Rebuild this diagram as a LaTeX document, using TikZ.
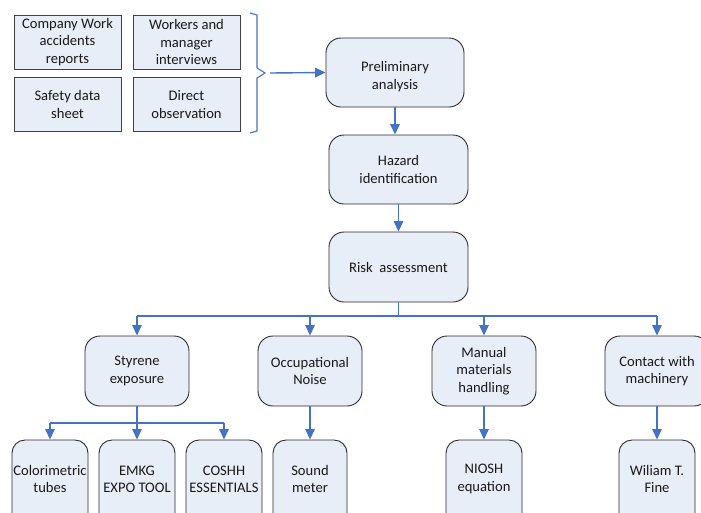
\documentclass[tikz,border=0pt]{standalone}
\usepackage{fontspec}
\setmainfont{Carlito}
\usetikzlibrary{arrows.meta}
\definecolor{boxfill}{HTML}{E8EEF8}
\definecolor{boxline}{HTML}{2B2B2B}
\definecolor{srcline}{HTML}{404040}
\definecolor{flow}{HTML}{4472C4}
\tikzset{
  txt/.style={font=\fontsize{14.6}{17.3}\selectfont, align=center, text=black!90},
  srcbox/.style={txt, draw=srcline, fill=boxfill, line width=0.9pt,
    minimum width=107pt, minimum height=54pt, inner sep=0pt},
  stagebox/.style={txt, draw=boxline, fill=boxfill, line width=0.9pt,
    rounded corners=15pt, minimum width=139pt, minimum height=69pt, inner sep=0pt},
  hazbox/.style={stagebox, minimum width=104pt, minimum height=70pt},
  toolbox/.style={stagebox, rounded corners=13pt, minimum width=76pt, minimum height=100pt},
  flowarrow/.style={draw=flow, line width=1.4pt, -{Triangle[width=9.5pt,length=10.5pt]}},
  flowline/.style={draw=flow, line width=1.4pt},
}
\begin{document}
\begin{tikzpicture}[x=1pt,y=-1pt]
\useasboundingbox (0,0) rectangle (701,512);
\begin{scope}
\clip (0,0) rectangle (701,512);

% information sources
\node[srcbox] (cwar) at (67.5,42) {Company Work\\accidents\\reports};
\node[srcbox] (wmi) at (186.5,42) {Workers and\\manager\\interviews};
\node[srcbox] (sds) at (67.5,104.5) {Safety data\\sheet};
\node[srcbox] (dob) at (186.5,104.5) {Direct\\observation};

% brace gathering the sources
\draw[flowline, line width=1.1pt, line join=miter]
  (250,13) -- (257,15) -- (257,68) -- (265,73) coordinate (tip)
  -- (257,78) -- (257,131) -- (250,133);

% main sequence
\node[stagebox, minimum width=138pt] (prelim) at (395,72.5) {};
\node[txt] at (395,76.5) {Preliminary\\analysis};
\node[stagebox] (hazard) at (398.5,169.5) {Hazard\\identification};
\node[stagebox, minimum height=70pt] (risk) at (398.5,267) {Risk\ \ assessment};

\coordinate (tipgap) at (270,73);
\draw[flowarrow] (tipgap) -- (prelim.west);
\draw[flowarrow] (prelim.south) -- (prelim.south |- hazard.north);
\draw[flowarrow] (hazard.south) -- (hazard.south |- risk.north);

% hazards
\node[hazbox] (styrene) at (137,371) {Styrene\\exposure};
\node[hazbox] (noise) at (310,371) {Occupational\\Noise};
\node[hazbox] (manual) at (484,371) {Manual\\materials\\handling};
\node[hazbox] (contact) at (657,371) {Contact with\\machinery};

\coordinate (riskbus) at (398.5,316);
\draw[flowline] (risk.south) -- (riskbus);
\draw[flowline] (styrene.north |- riskbus) -- (contact.north |- riskbus);
\foreach \h in {styrene,noise,manual,contact}
  \draw[flowarrow] (\h.north |- riskbus) -- (\h.north);

% assessment tools (boxes run past the lower edge)
\node[toolbox] (colo) at (50,490) {};
\node[toolbox] (emkg) at (137,490) {};
\node[toolbox] (coshh) at (224,490) {};
\node[toolbox, minimum width=74pt] (sound) at (310,490) {};
\node[toolbox] (niosh) at (484,490) {};
\node[toolbox] (fine) at (657,490) {};
\node[txt] at (colo |- 0,479) {Colorimetric\\tubes};
\node[txt] at (emkg |- 0,479) {EMKG\\EXPO TOOL};
\node[txt] at (coshh |- 0,479) {COSHH\\ESSENTIALS};
\node[txt] at (sound |- 0,479) {Sound\\meter};
\node[txt] at (niosh |- 0,479) {NIOSH\\equation};
\node[txt] at (fine |- 0,479) {Wiliam T.\\Fine};

\coordinate (stybus) at (137,423);
\draw[flowline] (styrene.south) -- (stybus);
\draw[flowline] (colo.north |- stybus) -- (coshh.north |- stybus);
\foreach \t in {colo,emkg,coshh}
  \draw[flowarrow] (\t.north |- stybus) -- (\t.north);
\draw[flowarrow] (noise.south) -- (sound.north);
\draw[flowarrow] (manual.south) -- (niosh.north);
\draw[flowarrow] (contact.south) -- (fine.north);
\end{scope}
\end{tikzpicture}
\end{document}
